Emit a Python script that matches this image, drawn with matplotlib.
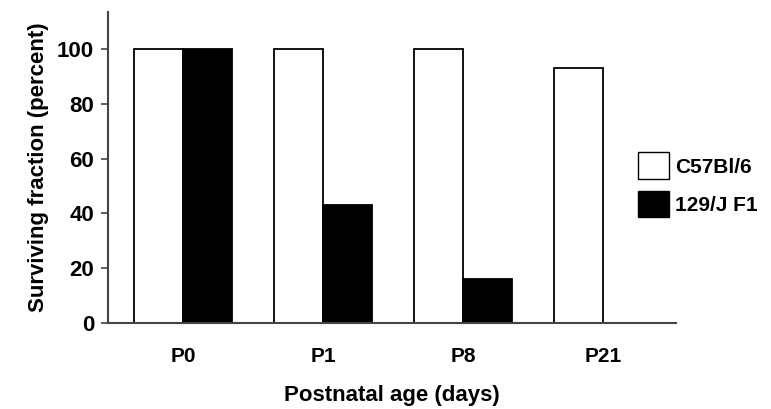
import matplotlib.pyplot as plt
import numpy as np

# ---- Data ----
ages = ['P0', 'P1', 'P8', 'P21']
c57 = [100, 100, 100, 93]
f1_129 = [100, 43, 16, 0]
series_names = ['C57Bl/6', '129/J F1']
yticks = [0, 20, 40, 60, 80, 100]

plt.rcParams['font.family'] = ['Liberation Sans', 'DejaVu Sans']

fig = plt.figure(figsize=(7.71, 4.09), dpi=100)
ax = fig.add_axes([0.140, 0.210, 0.737, 0.761])

x = np.arange(len(ages))
w = 0.35
ax.bar(x - w / 2, c57, w, color='white', edgecolor='black', linewidth=1.3, label=series_names[0])
ax.bar(x + w / 2, f1_129, w, color='black', edgecolor='black', linewidth=1.3, label=series_names[1])

ax.set_xlim(-0.536, 3.52)
ax.set_ylim(0, 113.5)
ax.set_yticks(yticks)
ax.set_xticks(x)
ax.set_xticklabels(ages, fontsize=15, fontweight='bold')
ax.tick_params(axis='y', labelsize=16, length=5, width=1.2, color='#444444', pad=5)
ax.tick_params(axis='x', length=0, pad=17)
for lab in ax.get_yticklabels():
    lab.set_fontweight('bold')

for s in ['top', 'right']:
    ax.spines[s].set_visible(False)
for s in ['left', 'bottom']:
    ax.spines[s].set_color('#444444')
    ax.spines[s].set_linewidth(1.5)

ax.set_xlabel('Postnatal age (days)', fontsize=16, fontweight='bold', labelpad=14)
ax.set_ylabel('Surviving fraction (percent)', fontsize=16, fontweight='bold', labelpad=6)

leg = ax.legend(loc='upper left', bbox_to_anchor=(0.918, 0.575), frameon=False,
                prop={'size': 15, 'weight': 'bold'}, handlelength=1.5, handleheight=1.6,
                labelspacing=0.55, handletextpad=0.3, borderaxespad=0)
for p in leg.get_patches():
    p.set_linewidth(1.0)

fig.savefig('out.png', dpi=100)
